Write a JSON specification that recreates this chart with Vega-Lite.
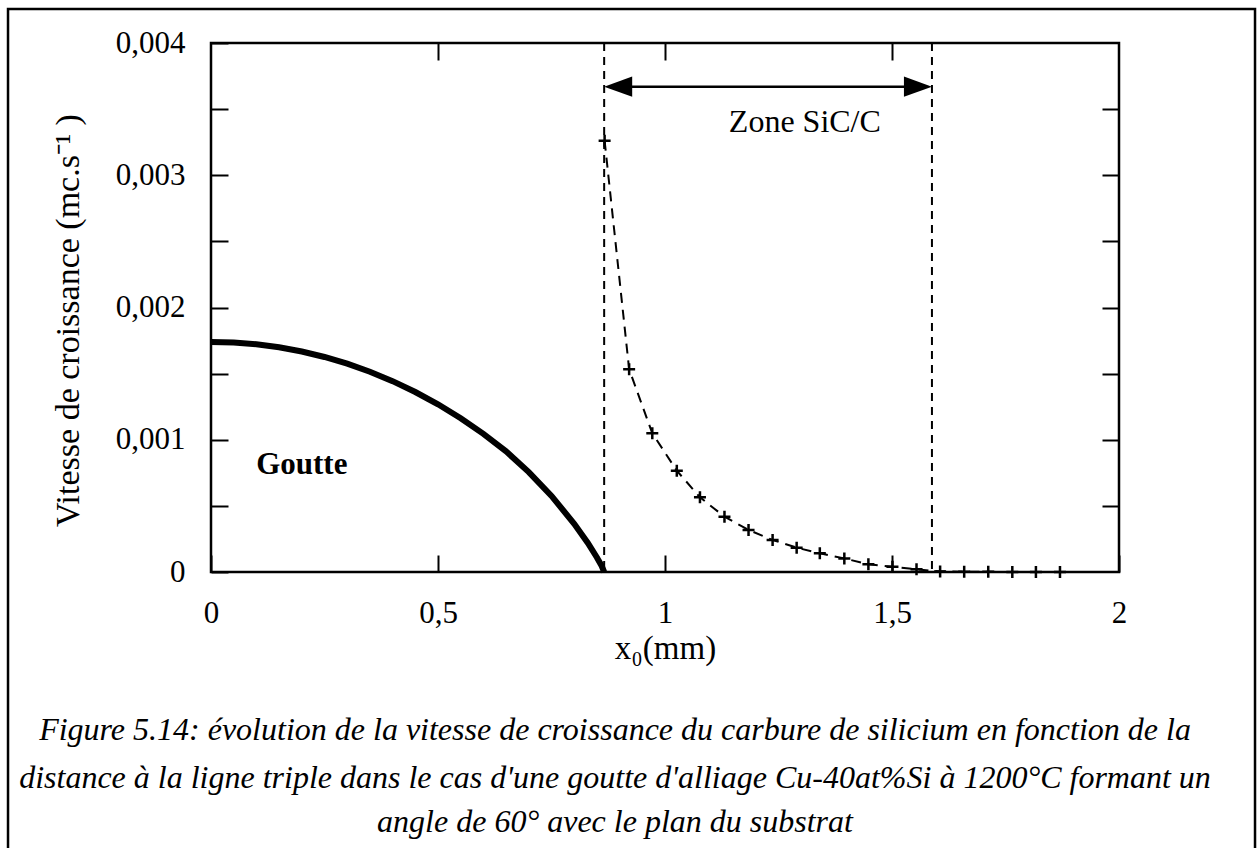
{
  "$schema": "https://vega.github.io/schema/vega-lite/v6.json",
  "width": 908,
  "height": 529,
  "autosize": {"type": "none"},
  "padding": {"left": 211, "top": 43, "right": 139, "bottom": 276},
  "background": "white",
  "config": {
    "font": "Liberation Serif",
    "view": {"stroke": "black", "strokeWidth": 2.5},
    "axis": {
      "domain": false,
      "grid": false,
      "tickColor": "black",
      "tickWidth": 2,
      "tickSize": -17,
      "labelFont": "Liberation Serif",
      "labelFontSize": 31,
      "labelColor": "black",
      "labelFlush": false,
      "labelOverlap": false,
      "titleFont": "Liberation Serif",
      "titleFontSize": 31,
      "titleFontWeight": "normal",
      "titleColor": "black"
    }
  },
  "datasets": {
    "goutte": [
      {"x": 0.0, "y": 0.00174},
      {"x": 0.05, "y": 0.001736},
      {"x": 0.1, "y": 0.001722},
      {"x": 0.15, "y": 0.001699},
      {"x": 0.2, "y": 0.001667},
      {"x": 0.25, "y": 0.001626},
      {"x": 0.3, "y": 0.001575},
      {"x": 0.35, "y": 0.001514},
      {"x": 0.4, "y": 0.001443},
      {"x": 0.45, "y": 0.001361},
      {"x": 0.5, "y": 0.001268},
      {"x": 0.55, "y": 0.001163},
      {"x": 0.6, "y": 0.001045},
      {"x": 0.65, "y": 0.000912},
      {"x": 0.7, "y": 0.000755},
      {"x": 0.75, "y": 0.000575},
      {"x": 0.8, "y": 0.000365},
      {"x": 0.83, "y": 0.00022},
      {"x": 0.85, "y": 0.00011},
      {"x": 0.86, "y": 0.00005},
      {"x": 0.866, "y": 0.0}
    ],
    "sic": [
      {"x": 0.867, "y": 0.003261},
      {"x": 0.921, "y": 0.001533},
      {"x": 0.972, "y": 0.001049},
      {"x": 1.026, "y": 0.000766},
      {"x": 1.077, "y": 0.000565},
      {"x": 1.131, "y": 0.000418},
      {"x": 1.184, "y": 0.000318},
      {"x": 1.237, "y": 0.000242},
      {"x": 1.29, "y": 0.000184},
      {"x": 1.341, "y": 0.000141},
      {"x": 1.395, "y": 0.000103},
      {"x": 1.448, "y": 0.000058},
      {"x": 1.501, "y": 0.00004},
      {"x": 1.554, "y": 0.00002},
      {"x": 1.606, "y": 0.000004},
      {"x": 1.659, "y": 0.000002},
      {"x": 1.712, "y": 0.000001},
      {"x": 1.765, "y": 0.0},
      {"x": 1.817, "y": 0.0},
      {"x": 1.87, "y": 0.0}
    ],
    "zone": [
      {"bound": "debut", "x0": 0.866},
      {"bound": "fin", "x0": 1.588}
    ]
  },
  "layer": [
    {
      "data": {"name": "goutte"},
      "mark": {"type": "line", "color": "black", "strokeWidth": 6, "clip": false},
      "encoding": {
        "x": {
          "field": "x", "type": "quantitative",
          "scale": {"domain": [0, 2], "nice": false, "zero": false},
          "axis": {
            "orient": "bottom",
            "values": [0, 0.5, 1, 1.5, 2],
            "labelExpr": "replace(format(datum.value, '~g'), '.', ',')",
            "labelPadding": 43,
            "title": "x₀(mm)",
            "titleFontSize": 33,
            "titlePadding": 4
          }
        },
        "y": {
          "field": "y", "type": "quantitative",
          "scale": {"domain": [0, 0.004], "nice": false, "zero": true},
          "axis": {
            "orient": "left",
            "values": [0, 0.0005, 0.001, 0.0015, 0.002, 0.0025, 0.003, 0.0035, 0.004],
            "labelExpr": "round(datum.value * 2000) % 2 == 0 ? (datum.value == 0 ? '0' : replace(format(datum.value, '.3f'), '.', ',')) : ''",
            "labelPadding": 43,
            "title": "Vitesse de croissance (mc.s⁻¹ )",
            "titleFontSize": 34,
            "titleX": -126,
            "titleY": 277
          }
        }
      }
    },
    {
      "data": {"name": "sic"},
      "mark": {"type": "line", "color": "black", "strokeWidth": 2, "strokeDash": [10, 7]},
      "encoding": {
        "x": {
          "field": "x", "type": "quantitative",
          "axis": {"orient": "top", "values": [0.5, 1, 1.5], "labels": false, "title": null}
        },
        "y": {
          "field": "y", "type": "quantitative",
          "axis": {"orient": "right", "values": [0.0005, 0.001, 0.0015, 0.002, 0.0025, 0.003, 0.0035], "labels": false, "title": null}
        }
      }
    },
    {
      "data": {"name": "sic"},
      "mark": {"type": "point", "shape": "M-1,0L1,0M0,-1L0,1", "filled": false, "stroke": "black", "strokeWidth": 2.5, "size": 144, "opacity": 1},
      "encoding": {
        "x": {"field": "x", "type": "quantitative", "axis": null},
        "y": {"field": "y", "type": "quantitative", "axis": null}
      }
    },
    {
      "data": {"name": "zone"},
      "mark": {"type": "rule", "color": "black", "strokeWidth": 2, "strokeDash": [8, 6]},
      "encoding": {
        "x": {"field": "x0", "type": "quantitative", "axis": null}
      }
    },
    {
      "data": {"values": [{}]},
      "mark": {"type": "rule", "color": "black", "strokeWidth": 2.5},
      "encoding": {
        "x": {"datum": 0.88, "type": "quantitative", "axis": null},
        "x2": {"datum": 1.575},
        "y": {"datum": 0.00367, "type": "quantitative", "axis": null}
      }
    },
    {
      "data": {"values": [{}]},
      "mark": {"type": "point", "shape": "M0,0L2,-0.72L2,0.72Z", "filled": true, "fill": "black", "strokeWidth": 0, "size": 784, "opacity": 1},
      "encoding": {
        "x": {"datum": 0.866, "type": "quantitative", "axis": null},
        "y": {"datum": 0.00367, "type": "quantitative", "axis": null}
      }
    },
    {
      "data": {"values": [{}]},
      "mark": {"type": "point", "shape": "M0,0L-2,-0.72L-2,0.72Z", "filled": true, "fill": "black", "strokeWidth": 0, "size": 784, "opacity": 1},
      "encoding": {
        "x": {"datum": 1.588, "type": "quantitative", "axis": null},
        "y": {"datum": 0.00367, "type": "quantitative", "axis": null}
      }
    },
    {
      "data": {"values": [{}]},
      "mark": {"type": "text", "text": "Goutte", "font": "Liberation Serif", "fontWeight": "bold", "fontSize": 31, "align": "center", "baseline": "middle", "color": "black"},
      "encoding": {
        "x": {"datum": 0.2, "type": "quantitative", "axis": null},
        "y": {"datum": 0.00081, "type": "quantitative", "axis": null}
      }
    },
    {
      "data": {"values": [{}]},
      "mark": {"type": "text", "text": "Zone SiC/C", "font": "Liberation Serif", "fontSize": 32, "align": "center", "baseline": "middle", "color": "black"},
      "encoding": {
        "x": {"datum": 1.308, "type": "quantitative", "axis": null},
        "y": {"datum": 0.0034, "type": "quantitative", "axis": null}
      }
    },
    {
      "data": {"values": [{}]},
      "mark": {"type": "text", "text": "Figure 5.14: évolution de la vitesse de croissance du carbure de silicium en fonction de la", "font": "Liberation Serif", "fontStyle": "italic", "fontSize": 32, "align": "center", "baseline": "middle", "color": "black"},
      "encoding": {
        "x": {"datum": 0.8899, "type": "quantitative", "axis": null},
        "y": {"datum": -0.001195, "type": "quantitative", "axis": null}
      }
    },
    {
      "data": {"values": [{}]},
      "mark": {"type": "text", "text": "distance à la ligne triple dans le cas d'une goutte d'alliage Cu-40at%Si à 1200°C formant un", "font": "Liberation Serif", "fontStyle": "italic", "fontSize": 32, "align": "center", "baseline": "middle", "color": "black"},
      "encoding": {
        "x": {"datum": 0.8899, "type": "quantitative", "axis": null},
        "y": {"datum": -0.001558, "type": "quantitative", "axis": null}
      }
    },
    {
      "data": {"values": [{}]},
      "mark": {"type": "text", "text": "angle de 60° avec le plan du substrat", "font": "Liberation Serif", "fontStyle": "italic", "fontSize": 32, "align": "center", "baseline": "middle", "color": "black"},
      "encoding": {
        "x": {"datum": 0.8899, "type": "quantitative", "axis": null},
        "y": {"datum": -0.00189, "type": "quantitative", "axis": null}
      }
    },
    {
      "data": {"values": [{}]},
      "mark": {"type": "rect", "fill": "transparent", "stroke": "black", "strokeWidth": 2.5},
      "encoding": {
        "x": {"datum": -0.4471, "type": "quantitative", "axis": null},
        "x2": {"datum": 2.2996},
        "y": {"datum": 0.004257, "type": "quantitative", "axis": null},
        "y2": {"datum": -0.00212}
      }
    }
  ],
  "resolve": {"axis": {"x": "independent", "y": "independent"}}
}
